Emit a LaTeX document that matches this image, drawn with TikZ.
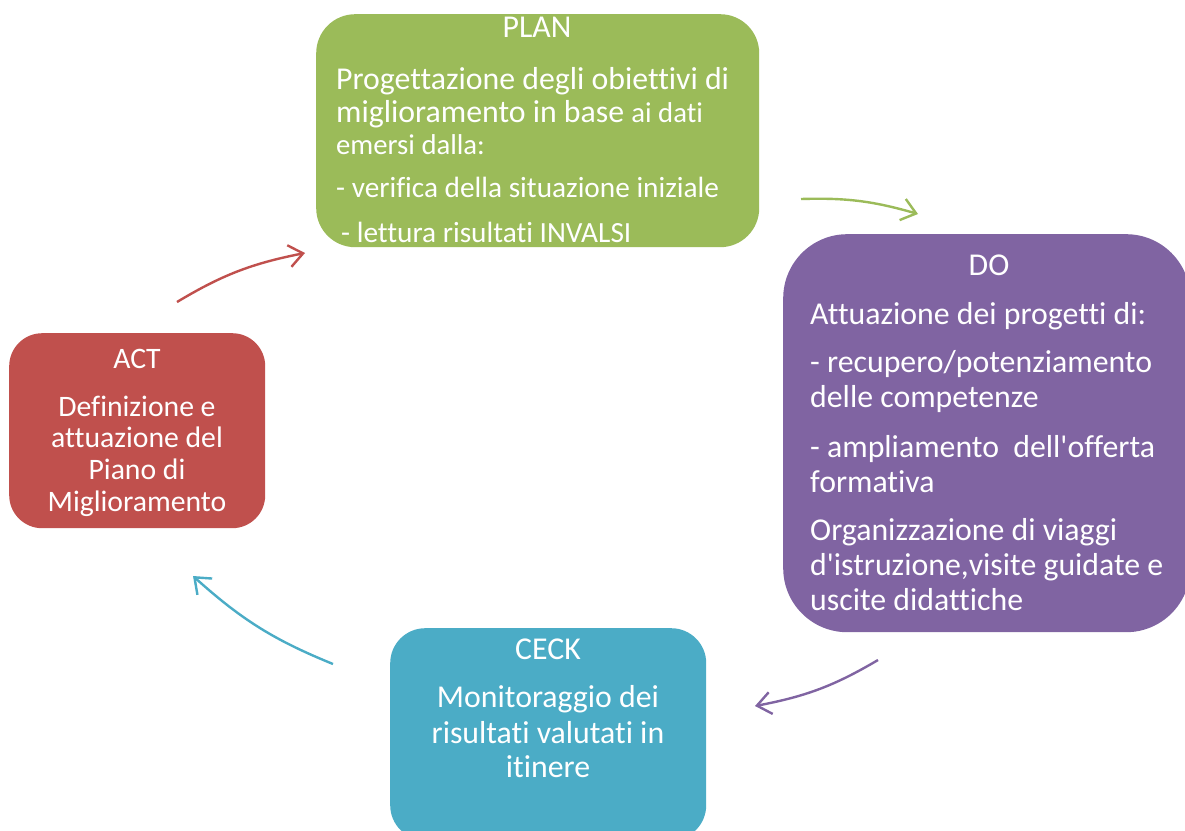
\documentclass[tikz,border=0pt]{standalone}
\usepackage{fontspec}
\setmainfont{Carlito}[Ligatures=NoCommon]
\usetikzlibrary{arrows.meta,bending}
\definecolor{cgreen}{HTML}{9BBB59}
\definecolor{cpurple}{HTML}{8064A2}
\definecolor{cred}{HTML}{C0504D}
\definecolor{cblue}{HTML}{4BACC6}
\newcommand\fbody{\fontsize{31.8}{35}\selectfont}
\newcommand\fsmall{\fontsize{28.7}{35}\selectfont}
\newcommand\fmid{\fontsize{29.3}{35}\selectfont}
\newcommand\fact{\fontsize{29.7}{32}\selectfont}
\newcommand\apo{\textquotesingle}
\begin{document}
\begin{tikzpicture}[x=1pt,y=-1pt,
  box/.style={draw=none, anchor=north west, inner sep=0pt},
  ln/.style={anchor=base west, font=\fbody, text=white, inner sep=0pt},
  lc/.style={anchor=base, font=\fbody, text=white, inner sep=0pt},
  lca/.style={anchor=base, font=\fact, text=white, inner sep=0pt},
  arr/.style={line width=2.4pt, -{Straight Barb[length=14pt,width=22pt]}}]
\useasboundingbox (0,0) rectangle (1185,830);
\clip (0,0) rectangle (1185,830);
% boxes
\node[box, fill=cgreen, minimum width=443pt, minimum height=233pt, rounded corners=39pt] (plan) at (316,14) {};
\node[box, fill=cpurple, minimum width=407pt, minimum height=398pt, rounded corners=64pt] (do) at (783,234) {};
\node[box, fill=cred, minimum width=256pt, minimum height=195pt, rounded corners=33pt] (act) at (9,333) {};
\node[box, fill=cblue, minimum width=316pt, minimum height=212pt, rounded corners=35pt] (ceck) at (390,628) {};
% PLAN text
\node[lc] (plant) at (537,37) {PLAN};
\node[ln] (p1) at (336,89) {Progettazione degli obiettivi di};
\node[ln] (p2) at (336,122) {miglioramento in base {\fsmall ai dati}};
\node[ln, font=\fsmall] (p3) at (336,154) {emersi dalla:};
\node[ln, font=\fmid] (p4) at (336,197) {- verifica della situazione iniziale};
\node[ln, font=\fmid] (p5) at (341,242) {- lettura risultati INVALSI};
% DO text
\node[lc] (dot) at (989,275) {DO};
\foreach \t/\y [count=\i] in {{Attuazione dei progetti di:}/324,{- recupero/potenziamento}/372,{delle competenze}/407,{- ampliamento\ \ dell\apo offerta}/457,{formativa}/492,{Organizzazione di viaggi}/540,{d\apo istruzione,visite guidate e}/575,{uscite didattiche}/610}
  \node[ln] (d\i) at (810,\y) {\t};
% ACT text
\node[lca] (actt) at (137,368) {ACT};
\foreach \t/\y [count=\i] in {{Definizione e}/416,{attuazione del}/447,{Piano di}/479,{Miglioramento}/511}
  \node[lca] (a\i) at (137,\y) {\t};
% CECK text
\node[lc] (ceckt) at (548,659) {CECK};
\foreach \t/\y [count=\i] in {{Monitoraggio dei}/707,{risultati valutati in}/743,{itinere}/777}
  \node[lc] (c\i) at (548,\y) {\t};
% arrows
\coordinate (g1) at (801,199); \coordinate (g2) at (918,214);
\coordinate (v1) at (878,660); \coordinate (v2) at (755,706);
\coordinate (b1) at (333,664); \coordinate (b2) at (193,576);
\coordinate (r1) at (177,302); \coordinate (r2) at (305,253);
\draw[arr, cgreen] (g1) to[bend left=9] (g2);
\draw[arr, cpurple] (v1) to[bend left=10] (v2);
\draw[arr, cblue] (b1) to[bend left=10] (b2);
\draw[arr, cred] (r1) to[bend left=10] (r2);
\end{tikzpicture}
\end{document}
